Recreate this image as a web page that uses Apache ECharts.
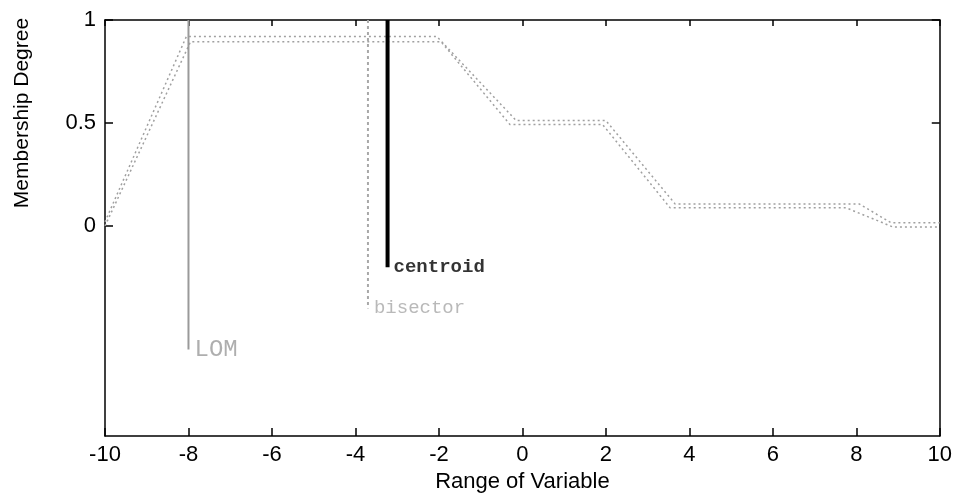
<!DOCTYPE html>
<html>
<head>
<meta charset="utf-8">
<script src="https://cdn.jsdelivr.net/npm/echarts@6/dist/echarts.min.js"></script>
<style>
  html, body { margin: 0; padding: 0; background: #ffffff; }
  #chart { width: 955px; height: 498px; }
</style>
</head>
<body>
<div id="chart"></div>
<script>
// Aggregated output membership function, traced twice (two slightly offset dotted traces)
const mfUpper = [[-10, 0.02], [-8.05, 0.92], [-2.05, 0.92], [-0.15, 0.512], [2.0, 0.512],
                 [3.66, 0.107], [8.07, 0.107], [8.83, 0.016], [10, 0.016]];
const mfLower = [[-10, 0], [-7.95, 0.895], [-1.95, 0.895], [-0.3, 0.493], [1.92, 0.493],
                 [3.54, 0.088], [7.76, 0.088], [8.88, -0.005], [10, -0.005]];

// Defuzzification results: name, crisp value, and how far below zero the marker drops
const methodNames = ['LOM', 'bisector', 'centroid'];
const methodX = [-8, -3.7, -3.23];
const methodDrop = [-0.6, -0.4, -0.2];

// Labelled ticks on the membership axis
const yTickValues = [0, 0.5, 1];
const yRightTicks = [0.5, 1];

const textFont = '"Liberation Sans", Arial, sans-serif';
const monoFont = '"Liberation Mono", "Courier New", monospace';

const methodLine = [
  { color: '#9a9a9a', width: 2, type: 'solid' },
  { color: '#a8a8a8', width: 2, type: [3, 3] },
  { color: '#000000', width: 4, type: 'solid' }
];
const methodLabel = [
  { color: '#9a9a9a', fontSize: 24, fontWeight: 'normal' },
  { color: '#a8a8a8', fontSize: 19, fontWeight: 'normal' },
  { color: '#000000', fontSize: 19, fontWeight: 'bold' }
];

const series = [];
[mfUpper, mfLower].forEach(function (d) {
  series.push({
    type: 'line',
    xAxisIndex: 0, yAxisIndex: 0,
    data: d,
    showSymbol: false,
    silent: true,
    lineStyle: { color: '#a0a0a0', width: 1.5, type: [2, 3] },
    z: 2
  });
});
methodNames.forEach(function (name, i) {
  series.push({
    type: 'line',
    xAxisIndex: 0, yAxisIndex: 0,
    data: [[methodX[i], 1], [methodX[i], methodDrop[i]]],
    showSymbol: false,
    silent: true,
    lineStyle: methodLine[i],
    z: 3 + i
  });
  series.push({
    type: 'scatter',
    xAxisIndex: 0, yAxisIndex: 0,
    data: [[methodX[i], methodDrop[i]]],
    symbolSize: 0,
    silent: true,
    label: {
      show: true,
      position: 'right',
      distance: 6,
      formatter: name,
      fontFamily: monoFont,
      fontSize: methodLabel[i].fontSize,
      fontWeight: methodLabel[i].fontWeight,
      color: methodLabel[i].color
    },
    z: 6
  });
});

const axisLineStyle = { color: '#000', width: 1.5 };

const chart = echarts.init(document.getElementById('chart'));
chart.setOption({
  animation: false,
  backgroundColor: '#ffffff',
  grid: { left: 105, right: 11, top: 20, bottom: 57, containLabel: false },
  xAxis: [
    {
      type: 'value', position: 'bottom', min: -10, max: 10, interval: 2,
      axisLine: { show: true, onZero: false, lineStyle: axisLineStyle },
      axisTick: { show: true, inside: true, length: 8, lineStyle: axisLineStyle },
      axisLabel: { show: true, margin: 8, fontFamily: textFont, fontSize: 22, color: '#000' },
      splitLine: { show: false },
      name: 'Range of Variable', nameLocation: 'middle', nameGap: 34,
      nameTextStyle: { fontFamily: textFont, fontSize: 22, color: '#000' }
    },
    {
      type: 'value', position: 'top', min: -10, max: 10, interval: 2,
      axisLine: { show: true, onZero: false, lineStyle: axisLineStyle },
      axisTick: { show: true, inside: true, length: 6, lineStyle: axisLineStyle },
      axisLabel: { show: false },
      splitLine: { show: false }
    }
  ],
  yAxis: [
    {
      type: 'value', position: 'left', min: -1.02, max: 1,
      axisLine: { show: true, onZero: false, lineStyle: axisLineStyle },
      axisTick: { show: true, inside: true, length: 8, customValues: yTickValues,
                  lineStyle: axisLineStyle },
      axisLabel: { show: true, margin: 9, customValues: yTickValues,
                   fontFamily: textFont, fontSize: 22, color: '#000' },
      splitLine: { show: false }
    },
    {
      type: 'value', position: 'right', min: -1.02, max: 1,
      axisLine: { show: true, onZero: false, lineStyle: axisLineStyle },
      axisTick: { show: true, inside: true, length: 8, customValues: yRightTicks,
                  lineStyle: axisLineStyle },
      axisLabel: { show: false },
      splitLine: { show: false }
    }
  ],
  graphic: [
    {
      type: 'text',
      x: 22, y: 113,
      rotation: Math.PI / 2,
      style: {
        text: 'Membership Degree',
        fontFamily: textFont, fontSize: 21,
        fill: '#000',
        align: 'center', verticalAlign: 'middle'
      }
    }
  ],
  series: series
});
</script>
</body>
</html>
